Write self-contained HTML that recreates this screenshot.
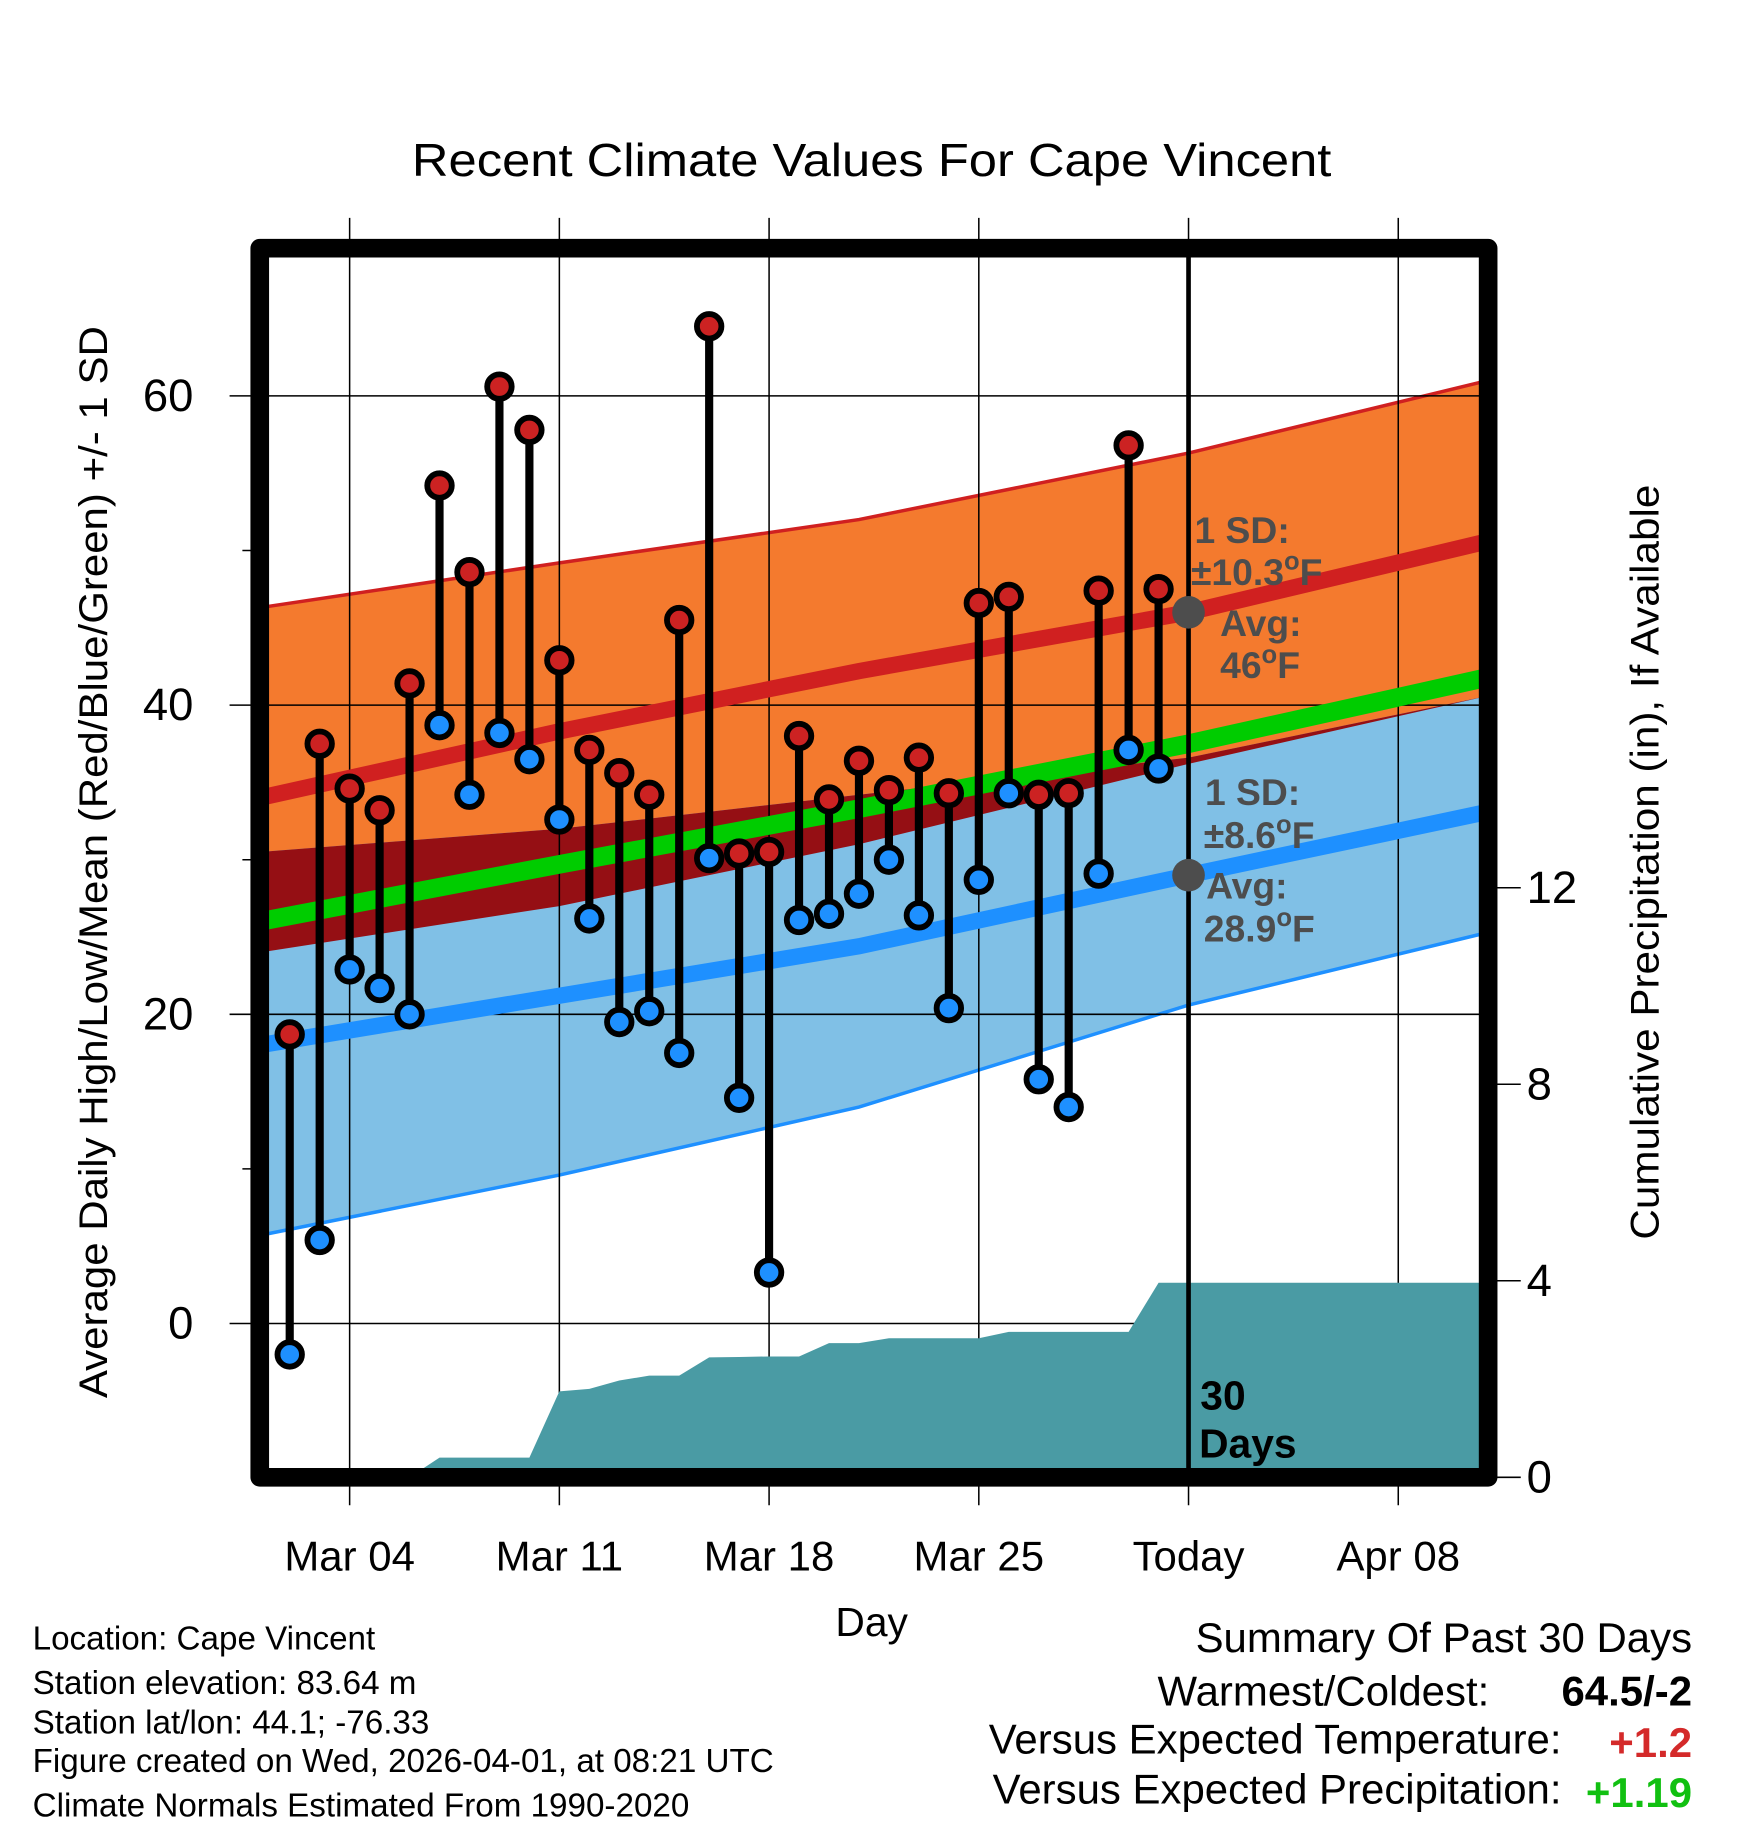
<!DOCTYPE html>
<html><head><meta charset="utf-8"><style>
html,body{margin:0;padding:0;background:#fff}
svg{display:block;font-family:"Liberation Sans",Arial,sans-serif}
</style></head><body>
<svg id="chart" width="1748" height="1828" viewBox="0 0 1500 1569" preserveAspectRatio="none" xmlns="http://www.w3.org/2000/svg">
<rect width="1500" height="1569" fill="#fff"/>
<text x="748" y="151" font-size="40" text-anchor="middle" textLength="789" lengthAdjust="spacingAndGlyphs">Recent Climate Values For Cape Vincent</text>
<g id="bands"></g>
<g id="grid"></g>
<g id="normals"></g>
<g id="precip"></g>
<g id="today"></g>
<g id="marks"></g>
<g id="frame"></g>
<g id="axes"></g>
<text transform="translate(92,740) rotate(-90)" font-size="34" text-anchor="middle" textLength="920" lengthAdjust="spacingAndGlyphs">Average Daily High/Low/Mean (Red/Blue/Green) +/- 1 SD</text>
<text transform="translate(1423,740) rotate(-90)" font-size="34" text-anchor="middle" textLength="648" lengthAdjust="spacingAndGlyphs">Cumulative Precipitation (in), If Available</text>
<text x="748" y="1404" font-size="35" text-anchor="middle">Day</text>
<g font-size="32" font-weight="bold" fill="#4d4d4d">
<text x="1025" y="466">1 SD:</text>
<text x="1022" y="502">±10.3<tspan font-size="22" dy="-13">o</tspan><tspan dy="13">F</tspan></text>
<text x="1047" y="546">Avg:</text>
<text x="1047" y="582">46<tspan font-size="22" dy="-13">o</tspan><tspan dy="13">F</tspan></text>
</g>
<g font-size="32" font-weight="bold" fill="#4d4d4d">
<text x="1034" y="691">1 SD:</text>
<text x="1033" y="728">±8.6<tspan font-size="22" dy="-13">o</tspan><tspan dy="13">F</tspan></text>
<text x="1035" y="771">Avg:</text>
<text x="1033" y="808">28.9<tspan font-size="22" dy="-13">o</tspan><tspan dy="13">F</tspan></text>
</g>
<g font-size="35" font-weight="bold" fill="#000">
<text x="1030" y="1210">30</text>
<text x="1029" y="1251">Days</text>
</g>
<g font-size="28.5" fill="#000">
<text x="28" y="1416">Location: Cape Vincent</text>
<text x="28" y="1454">Station elevation: 83.64 m</text>
<text x="28" y="1488">Station lat/lon: 44.1; -76.33</text>
<text x="28" y="1521">Figure created on Wed, 2026-04-01, at 08:21 UTC</text>
<text x="28" y="1559">Climate Normals Estimated From 1990-2020</text>
</g>
<g font-size="36" fill="#000" text-anchor="end">
<text x="1452" y="1418">Summary Of Past 30 Days</text>
<text x="1278" y="1464">Warmest/Coldest:</text>
<text x="1452" y="1464" font-weight="bold">64.5/-2</text>
<text x="1340" y="1505">Versus Expected Temperature:</text>
<text x="1452" y="1508" font-weight="bold" fill="#d42a2a">+1.2</text>
<text x="1340" y="1548">Versus Expected Precipitation:</text>
<text x="1452" y="1551" font-weight="bold" fill="#11c011">+1.19</text>
</g>
</svg>
<script>
const normDays=[0,10,20,31,41];
const highAvg=[34.0,38.3,42.2,46.0,50.6];
const highUpper=[46.3,49.2,52.0,56.3,61.0];
const highLower=[24.0,27.0,31.0,36.2,40.6];
const lowAvg=[18.0,21.2,24.4,29.0,33.1];
const lowUpper=[30.5,32.0,34.2,36.6,40.6];
const lowLower=[5.7,9.6,14.0,20.6,25.3];
const meanAvg=[26.0,29.7,33.3,37.5,41.8];
const obsDays=[1,2,3,4,5,6,7,8,9,10,11,12,13,14,15,16,17,18,19,20,21,22,23,24,25,26,27,28,29,30];
const highs=[18.7,37.5,34.6,33.2,41.4,54.2,48.6,60.6,57.8,42.9,37.1,35.6,34.2,45.5,64.5,30.4,30.5,38.0,33.9,36.4,34.5,36.6,34.3,46.6,47.0,34.2,34.3,47.4,56.8,47.5];
const lows=[-2,5.4,22.9,21.7,20.0,38.7,34.2,38.2,36.5,32.6,26.2,19.5,20.2,17.5,30.1,14.6,3.3,26.1,26.5,27.8,30.0,26.4,20.4,28.7,34.3,15.8,14.0,29.1,37.1,35.9];
const precip=[0,0,0,0,0,0.4,0.4,0.4,0.4,1.75,1.8,1.97,2.07,2.07,2.44,2.45,2.46,2.46,2.73,2.73,2.83,2.83,2.83,2.83,2.96,2.96,2.96,2.96,2.96,3.96];
const xTickDays=[3,10,17,24,31,38];
const xTickLabels=['Mar 04','Mar 11','Mar 18','Mar 25','Today','Apr 08'];
const yTicks=[0,20,40,60];
const yMinor=[10,30,50];
const pTicks=[0,4,8,12];

const NS='http://www.w3.org/2000/svg';
const X=d=>222.9+d*25.71;
const Y=v=>1136-v*13.27;
const P=v=>1268-v*42.17;
function mk(parent,tag,attrs){const e=document.createElementNS(NS,tag);for(const k in attrs)e.setAttribute(k,attrs[k]);document.getElementById(parent).appendChild(e);return e;}
function band(up,lo){let a=normDays.map((d,i)=>X(d)+','+Y(up[i]));let b=normDays.map((d,i)=>X(d)+','+Y(lo[i])).reverse();return a.concat(b).join(' ');}
function line(arr){return normDays.map((d,i)=>X(d)+','+Y(arr[i])).join(' ');}

let e;
e=mk('bands','polygon',{points:band(highUpper,highLower),fill:'#f47a2e'});


e=mk('bands','polygon',{points:band(lowUpper,lowLower),fill:'#80c0e6'});


e=mk('bands','polygon',{points:band(lowUpper,highLower),fill:'#950f14'});


e=mk('bands','polyline',{points:line(highUpper),fill:'none',stroke:'#d02020','stroke-width':3});


e=mk('bands','polyline',{points:line(lowLower),fill:'none',stroke:'#1e90ff','stroke-width':3});



xTickDays.forEach((d,i)=>{
  e=mk('grid','line',{x1:X(d),x2:X(d),y1:187,y2:1292,stroke:'#000','stroke-width':1.3});
  
  
  e=mk('axes','text',{x:X(d),y:1348,'font-size':36,'text-anchor':'middle'});
  e.textContent=xTickLabels[i];
  
  
});
yTicks.forEach(v=>{
  e=mk('grid','line',{x1:197,x2:1278,y1:Y(v),y2:Y(v),stroke:'#000','stroke-width':1.3});
  
  
  e=mk('axes','text',{x:166,y:Y(v)+13,'font-size':39,'text-anchor':'end'});
  e.textContent=v;
  
  
});
yMinor.forEach(v=>{
  e=mk('grid','line',{x1:208,x2:222,y1:Y(v),y2:Y(v),stroke:'#000','stroke-width':1.3});
  
  
});
pTicks.forEach(v=>{
  e=mk('axes','line',{x1:1277,x2:1305,y1:P(v),y2:P(v),stroke:'#000','stroke-width':1.3});
  
  
  e=mk('axes','text',{x:1310,y:P(v)+13,'font-size':39});
  e.textContent=v;
  
  
});

e=mk('normals','polyline',{points:line(meanAvg),fill:'none',stroke:'#00cc00','stroke-width':16});


e=mk('normals','polyline',{points:line(highAvg),fill:'none',stroke:'#d02020','stroke-width':14});


e=mk('normals','polyline',{points:line(lowAvg),fill:'none',stroke:'#1e90ff','stroke-width':14});



let pts=[X(0)+','+P(0)];
pts.push(X(obsDays[0])+','+P(precip[0]));
for(let i=1;i<obsDays.length;i++){pts.push(X(obsDays[i])+','+P(precip[i]));}
pts.push(X(41)+','+P(precip[precip.length-1]));
pts.push(X(41)+','+P(0));
e=mk('precip','polygon',{points:pts.join(' '),fill:'#4a9ba4'});



e=mk('today','line',{x1:X(31),x2:X(31),y1:218,y2:1262,stroke:'#000','stroke-width':4});


e=mk('today','circle',{cx:X(31),cy:Y(highAvg[3]),r:14,fill:'#4d4d4d'});


e=mk('today','circle',{cx:X(31),cy:Y(lowAvg[3]),r:14,fill:'#4d4d4d'});



obsDays.forEach((d,i)=>{
  e=mk('marks','line',{x1:X(d),x2:X(d),y1:Y(highs[i]),y2:Y(lows[i]),stroke:'#000','stroke-width':7});
  
  
  e=mk('marks','circle',{cx:X(d),cy:Y(lows[i]),r:10.5,fill:'#1e90ff',stroke:'#000','stroke-width':5});
  
  
  e=mk('marks','circle',{cx:X(d),cy:Y(highs[i]),r:10.5,fill:'#cc2222',stroke:'#000','stroke-width':5});
  
  
});

e=mk('frame','rect',{x:X(0),y:213,width:X(41)-X(0),height:1268-213,fill:'none',stroke:'#000','stroke-width':16,'stroke-linejoin':'round'});


</script>
</body></html>
